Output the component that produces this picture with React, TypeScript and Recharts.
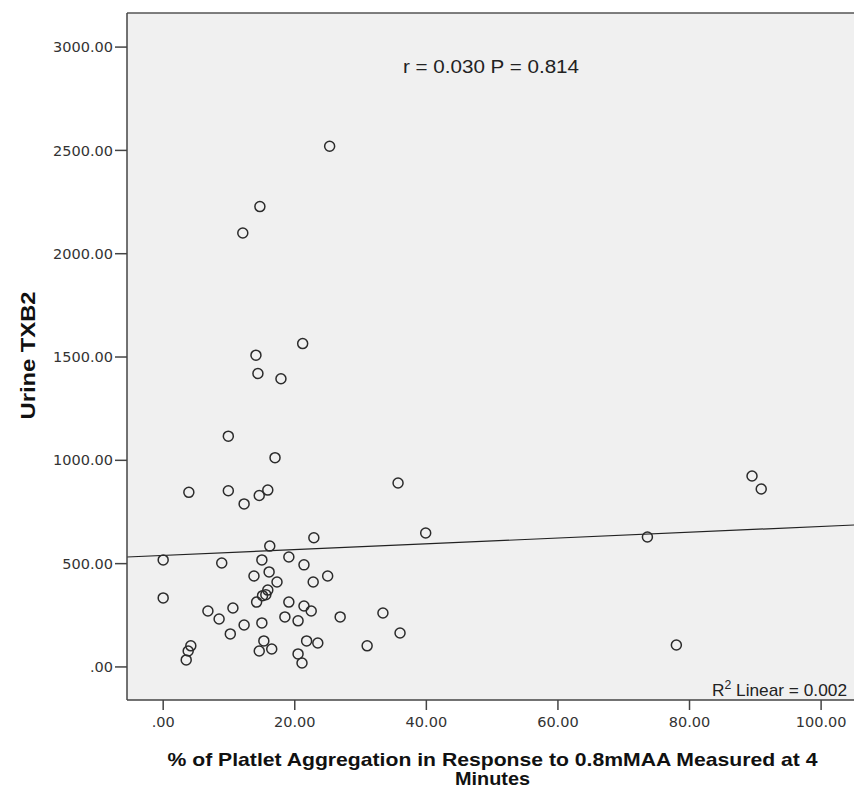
import { ScatterChart, Scatter, XAxis, YAxis, CartesianGrid, ReferenceLine, Label } from "recharts"

// % aggregation (x) and urine TXB2 (y), one entry per subject
const aggregation = [
  25.3, 14.7, 12.1, 21.2, 14.1, 14.4, 17.9, 9.9, 17.0, 35.7,
  3.9, 9.9, 15.9, 14.6, 12.3, 89.5, 90.9, 73.6, 78.0, 39.9,
  22.9, 0.0, 8.9, 16.2, 15.0, 19.1, 21.4, 13.8, 16.1, 17.3,
  25.0, 22.8, 0.0, 15.9, 15.1, 15.6, 14.2, 19.1, 6.8, 10.6,
  8.5, 21.4, 22.5, 26.9, 12.3, 15.0, 18.5, 20.5, 10.2, 4.2,
  3.8, 3.5, 15.3, 14.6, 16.5, 21.8, 23.5, 20.5, 21.1, 33.4,
  36.0, 31.0,
]
const txb2 = [
  2520, 2228, 2100, 1565, 1509, 1420, 1395, 1117, 1013, 890,
  845, 853, 856, 830, 789, 924, 861, 629, 106, 648,
  625, 518, 503, 585, 518, 532, 494, 440, 460, 411,
  440, 411, 334, 372, 345, 350, 314, 314, 271, 285,
  232, 295, 271, 242, 203, 213, 242, 223, 160, 102,
  77, 34, 126, 77, 87, 126, 116, 63, 19, 261,
  164, 102,
]

const xTicks = [0, 20, 40, 60, 80, 100]
const yTicks = [0, 500, 1000, 1500, 2000, 2500, 3000]
const xDomain = [-5.5, 105]
const yDomain = [-160, 3165]

// linear fit endpoints across the plot
const fitX = [-5.5, 105]
const fitY = [532, 687]

const statsText = "r = 0.030 P = 0.814"
const r2Value = "0.002"
const xTitle = ["% of Platlet Aggregation in Response to 0.8mMAA Measured at 4", "Minutes"]
const yTitle = "Urine TXB2"

const points = aggregation.map((x, i) => ({ x, y: txb2[i] }))

const fmt = (v: number) => (v === 0 ? ".00" : v.toFixed(2))

const tickStyle = { fontFamily: "DejaVu Sans", fontSize: 14.5, fill: "#333" }

function OpenCircle(props: any) {
  return <circle cx={props.cx} cy={props.cy} r={5} fill="none" stroke="#2b2b2b" strokeWidth={1.5} />
}

function XTitle(props: any) {
  const { x, y, width } = props.viewBox
  const cx = x + width / 2 + 2
  return (
    <g fontFamily="Liberation Sans" fontWeight="bold" fontSize={19} fill="#111">
      <text x={cx} y={y + 66} textAnchor="middle" textLength={650} lengthAdjust="spacingAndGlyphs">
        {xTitle[0]}
      </text>
      <text x={cx} y={y + 85} textAnchor="middle" textLength={75} lengthAdjust="spacingAndGlyphs">
        {xTitle[1]}
      </text>
    </g>
  )
}

function YTitle(props: any) {
  const { y, height } = props.viewBox
  const cy = y + height / 2 - 1
  return (
    <text
      x={35}
      y={cy}
      transform={`rotate(-90, 35, ${cy})`}
      textAnchor="middle"
      fontFamily="Liberation Sans"
      fontWeight="bold"
      fontSize={21}
      fill="#111"
      textLength={128}
      lengthAdjust="spacingAndGlyphs"
    >
      {yTitle}
    </text>
  )
}

export default function App() {
  return (
    <div style={{ position: "absolute", left: 0, top: 0, width: 854, height: 789, background: "#fff" }}>
      <ScatterChart width={854} height={789} margin={{ top: 13, right: 0, bottom: 0, left: 0 }}>
        <CartesianGrid horizontal={false} vertical={false} stroke="none" fill="#f0f0f0" />
        <XAxis
          type="number"
          dataKey="x"
          domain={xDomain}
          ticks={xTicks}
          tickFormatter={fmt}
          height={89}
          allowDataOverflow
          tick={tickStyle}
          tickSize={10}
          tickMargin={7}
          stroke="#444"
          axisLine={{ stroke: "#444", strokeWidth: 1.5 }}
          tickLine={{ stroke: "#444", strokeWidth: 1.5 }}
        >
          <Label content={<XTitle />} />
        </XAxis>
        <YAxis
          type="number"
          dataKey="y"
          domain={yDomain}
          ticks={yTicks}
          tickFormatter={fmt}
          width={127}
          allowDataOverflow
          tick={tickStyle}
          tickSize={12}
          tickMargin={2}
          stroke="#444"
          axisLine={{ stroke: "#444", strokeWidth: 1.5 }}
          tickLine={{ stroke: "#444", strokeWidth: 1.5 }}
        >
          <Label content={<YTitle />} />
        </YAxis>
        <ReferenceLine y={yDomain[1]} stroke="#555" strokeWidth={1.5} />
        <ReferenceLine
          segment={[
            { x: fitX[0], y: fitY[0] },
            { x: fitX[1], y: fitY[1] },
          ]}
          stroke="#222"
          strokeWidth={1.2}
          ifOverflow="visible"
        />
        <Scatter data={points} shape={<OpenCircle />} isAnimationActive={false} />
      </ScatterChart>
      <svg
        width={854}
        height={789}
        style={{ position: "absolute", left: 0, top: 0, pointerEvents: "none" }}
        fontFamily="Liberation Sans"
        fill="#222"
      >
        <text x={491} y={73} textAnchor="middle" fontSize={18} textLength={176} lengthAdjust="spacingAndGlyphs">
          {statsText}
        </text>
        <text x={712} y={696} fontSize={17} textLength={135} lengthAdjust="spacingAndGlyphs">
          R<tspan dy={-7} fontSize={12}>2</tspan>
          <tspan dy={7}>{` Linear = ${r2Value}`}</tspan>
        </text>
      </svg>
    </div>
  )
}
